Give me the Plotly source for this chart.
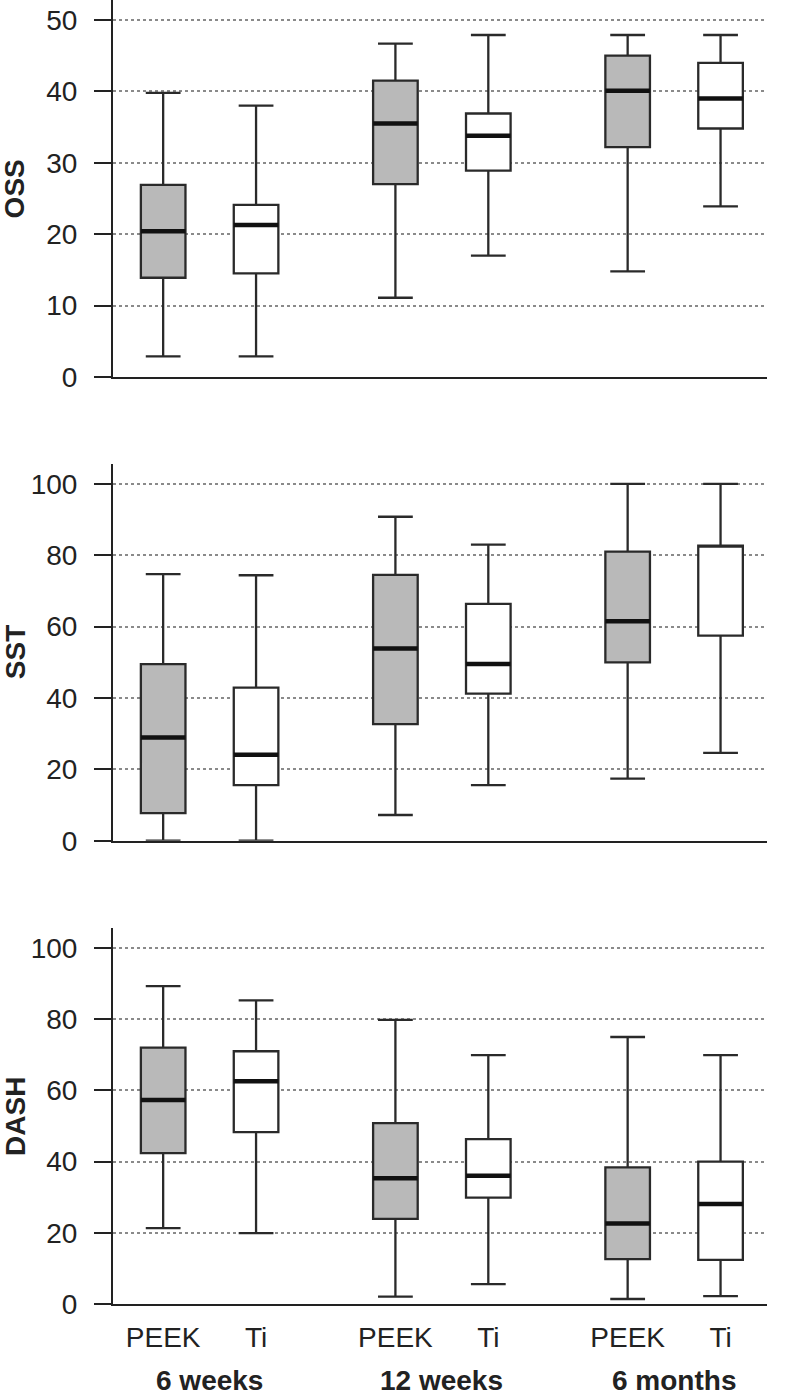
import plotly.graph_objects as go

# ---------------- data ----------------
time_points = ["6 weeks", "12 weeks", "6 months"]
groups = ["PEEK", "Ti"]
measures = ["OSS", "SST", "DASH"]

# OSS
oss_peek_lower = [2.9, 11.1, 14.8]
oss_peek_q1 = [13.9, 27.0, 32.2]
oss_peek_median = [20.4, 35.5, 40.1]
oss_peek_q3 = [26.9, 41.5, 45.0]
oss_peek_upper = [39.8, 46.7, 47.9]

oss_ti_lower = [2.9, 17.0, 23.9]
oss_ti_q1 = [14.5, 28.9, 34.8]
oss_ti_median = [21.3, 33.8, 39.0]
oss_ti_q3 = [24.1, 36.9, 44.0]
oss_ti_upper = [38.0, 47.9, 47.9]

# SST
sst_peek_lower = [0.0, 7.2, 17.4]
sst_peek_q1 = [7.7, 32.7, 50.0]
sst_peek_median = [28.9, 53.9, 61.5]
sst_peek_q3 = [49.5, 74.5, 81.0]
sst_peek_upper = [74.7, 90.8, 100.0]

sst_ti_lower = [0.0, 15.6, 24.6]
sst_ti_q1 = [15.6, 41.2, 57.5]
sst_ti_median = [24.1, 49.5, 82.7]
sst_ti_q3 = [42.9, 66.4, 82.7]
sst_ti_upper = [74.4, 83.0, 100.0]

# DASH
dash_peek_lower = [21.3, 2.1, 1.4]
dash_peek_q1 = [42.4, 23.9, 12.6]
dash_peek_median = [57.3, 35.3, 22.6]
dash_peek_q3 = [72.0, 50.8, 38.4]
dash_peek_upper = [89.3, 79.8, 75.0]

dash_ti_lower = [19.9, 5.6, 2.2]
dash_ti_q1 = [48.3, 29.9, 12.4]
dash_ti_median = [62.6, 36.0, 28.1]
dash_ti_q3 = [71.0, 46.3, 40.0]
dash_ti_upper = [85.3, 69.9, 69.9]

oss_ticks = [0, 10, 20, 30, 40, 50]
sst_ticks = [0, 20, 40, 60, 80, 100]
dash_ticks = [0, 20, 40, 60, 80, 100]

stats = {
    "OSS": {
        "PEEK": (oss_peek_lower, oss_peek_q1, oss_peek_median, oss_peek_q3, oss_peek_upper),
        "Ti": (oss_ti_lower, oss_ti_q1, oss_ti_median, oss_ti_q3, oss_ti_upper),
    },
    "SST": {
        "PEEK": (sst_peek_lower, sst_peek_q1, sst_peek_median, sst_peek_q3, sst_peek_upper),
        "Ti": (sst_ti_lower, sst_ti_q1, sst_ti_median, sst_ti_q3, sst_ti_upper),
    },
    "DASH": {
        "PEEK": (dash_peek_lower, dash_peek_q1, dash_peek_median, dash_peek_q3, dash_peek_upper),
        "Ti": (dash_ti_lower, dash_ti_q1, dash_ti_median, dash_ti_q3, dash_ti_upper),
    },
}
tick_sets = {"OSS": oss_ticks, "SST": sst_ticks, "DASH": dash_ticks}

# ---------------- styling / layout ----------------
FONT = "'Liberation Sans', Arial, sans-serif"
TXT = "#222222"
fills = {"PEEK": "#b9b9b9", "Ti": "#ffffff"}
LINE = "#2a2a2a"
BOX_W = 0.48
GAP = 2.5

domains = [(0.7109, 1.0), (0.3553, 0.6442), (0.0, 0.2883)]
ranges = [(0, 52.8), (0, 105.6), (0, 105.6)]


def pos(t, g):
    return t * GAP + g


fig = go.Figure()

for pi, m in enumerate(measures):
    xa = "x" if pi == 0 else f"x{pi+1}"
    ya = "y" if pi == 0 else f"y{pi+1}"
    for gi, grp in enumerate(groups):
        lo, q1, med, q3, up = stats[m][grp]
        xs = [pos(t, gi) for t in range(len(time_points))]
        fig.add_trace(go.Box(
            x=xs, q1=q1, median=med, q3=q3, lowerfence=lo, upperfence=up,
            width=BOX_W, whiskerwidth=0.78, boxpoints=False,
            fillcolor=fills[grp], line=dict(color=LINE, width=2.3),
            xaxis=xa, yaxis=ya, showlegend=False, hoverinfo="skip",
        ))
        # thick median bars
        mx, my = [], []
        for t in range(len(time_points)):
            if med[t] != q3[t] and med[t] != q1[t]:
                p = pos(t, gi)
                mx += [p - BOX_W / 2, p + BOX_W / 2, None]
                my += [med[t], med[t], None]
        fig.add_trace(go.Scatter(
            x=mx, y=my, mode="lines", line=dict(color="#111111", width=4.5),
            xaxis=xa, yaxis=ya, showlegend=False, hoverinfo="skip",
        ))

tickvals_x = [pos(t, g) for t in range(len(time_points)) for g in range(len(groups))]
ticktext_x = [groups[g] for t in range(len(time_points)) for g in range(len(groups))]

layout = dict(
    width=795, height=1396,
    margin=dict(l=113, r=28, t=0, b=92, autoexpand=False),
    plot_bgcolor="white", paper_bgcolor="white",
    font=dict(family=FONT, size=27, color=TXT),
    showlegend=False,
)

annotations = []
for pi, m in enumerate(measures):
    xk = "xaxis" if pi == 0 else f"xaxis{pi+1}"
    yk = "yaxis" if pi == 0 else f"yaxis{pi+1}"
    ya = "y" if pi == 0 else f"y{pi+1}"
    layout[xk] = dict(
        domain=[0, 1], anchor=ya, range=[-0.54, 6.5], automargin=False,
        showline=True, linecolor="#222222", linewidth=2,
        showgrid=False, zeroline=False, ticks="",
        tickvals=tickvals_x, ticktext=ticktext_x,
        showticklabels=(pi == 2), ticklabelstandoff=7,
        tickfont=dict(family=FONT, size=28, color=TXT),
    )
    layout[yk] = dict(
        domain=list(domains[pi]), anchor="x" if pi == 0 else f"x{pi+1}",
        range=list(ranges[pi]), tickvals=tick_sets[m], automargin=False,
        ticks="outside", ticklen=17, tickwidth=2, tickcolor="#222222",
        showline=True, linecolor="#222222", linewidth=2,
        showgrid=True, gridcolor="#8a8a8a", griddash="dot", gridwidth=1.5,
        zeroline=False, ticklabelstandoff=11,
        tickfont=dict(family=FONT, size=28, color=TXT),
    )
    annotations.append(dict(
        text=f"<b>{m}</b>", xref="paper", yref="paper",
        x=-0.150, y=(domains[pi][0] + domains[pi][1]) / 2,
        xanchor="center", yanchor="middle", textangle=-90, showarrow=False,
        font=dict(family=FONT, size=28, color=TXT),
    ))

for t, tp in enumerate(time_points):
    annotations.append(dict(
        text=f"<b>{tp}</b>", xref="x3", yref="paper",
        x=pos(t, 0.5), y=-0.0585, xanchor="center", yanchor="middle",
        showarrow=False, font=dict(family=FONT, size=28, color=TXT),
    ))

layout["annotations"] = annotations
fig.update_layout(**layout)
fig.write_html(
    "out.html",
    config={"displayModeBar": False},
    post_script="document.body.style.margin='0';document.body.style.padding='0';",
)
